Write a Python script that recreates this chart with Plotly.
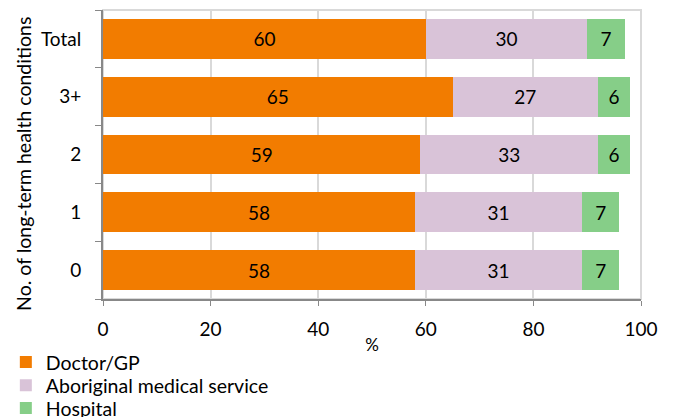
import plotly.graph_objects as go

categories = ["0", "1", "2", "3+", "Total"]
doctor_gp = [58, 58, 59, 65, 60]
aboriginal_ms = [31, 31, 33, 27, 30]
hospital = [7, 7, 6, 6, 7]
x_ticks = [0, 20, 40, 60, 80, 100]
y_title = "No. of long-term health conditions"

series = [
    ("Doctor/GP", doctor_gp, "#F27C00", "legend"),
    ("Aboriginal medical service", aboriginal_ms, "#D9C3D8", "legend2"),
    ("Hospital", hospital, "#86CE88", "legend3"),
]

FONT = "Lato"
FS = 19

fig = go.Figure()
for name, vals, color, lg in series:
    fig.add_trace(go.Bar(
        y=categories, x=vals, name=name, orientation="h", legend=lg,
        marker=dict(color=color, line=dict(width=0)),
        text=[str(v) for v in vals], textposition="inside",
        insidetextanchor="middle", textangle=0, constraintext="none",
        textfont=dict(color="black", size=FS, family=FONT),
    ))

def legend_at(y):
    return dict(
        orientation="v", x=-0.1806, y=y, xanchor="left", yanchor="top",
        font=dict(size=19.5), bgcolor="rgba(0,0,0,0)",
    )

# page body has an 8px margin, so the figure is sized/offset to compensate
fig.update_layout(
    barmode="stack", bargap=0.31,
    width=665, height=409,
    margin=dict(l=95, r=32, t=2, b=118, autoexpand=False),
    paper_bgcolor="white", plot_bgcolor="white",
    font=dict(family=FONT, size=FS, color="black"),
    legend=legend_at(-0.152),
    legend2=legend_at(-0.232),
    legend3=legend_at(-0.311),
    showlegend=True,
)
fig.update_xaxes(
    range=[0, 100], tickvals=x_ticks, ticks="outside", ticklen=5,
    tickcolor="#888888", showline=True, linecolor="#888888", linewidth=2,
    showgrid=True, gridcolor="#D9D9D9", gridwidth=2, zeroline=False,
    title=dict(text="%", standoff=0, font=dict(size=17)),
    tickfont=dict(size=FS), automargin=False, ticklabelstandoff=7,
)
fig.update_yaxes(
    categoryorder="array", categoryarray=categories,
    tickson="boundaries", ticks="outside", ticklen=6, tickcolor="#888888",
    showline=True, linecolor="#888888", linewidth=2,
    tickfont=dict(size=FS), range=[-0.5, 4.5], automargin=False,
    ticklabelstandoff=16,
)
fig.add_annotation(
    text=y_title, textangle=-90, xref="paper", yref="paper",
    x=-0.149, y=0.467, xanchor="center", yanchor="middle",
    showarrow=False, font=dict(size=19.5, family=FONT, color="black"),
)
fig.add_shape(type="rect", xref="paper", yref="paper", x0=0, x1=1, y0=0, y1=1,
              line=dict(color="#D9D9D9", width=2), layer="below")

fig.write_html("out.html")
